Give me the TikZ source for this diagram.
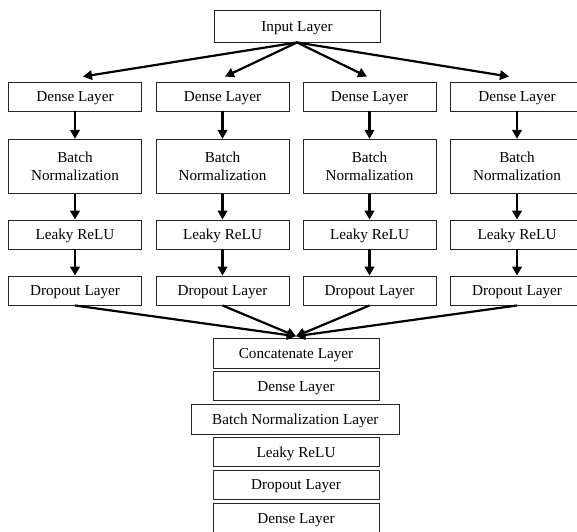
\documentclass[tikz,border=0pt]{standalone}
\usepackage{fontspec}
\setmainfont{Liberation Serif}
\usetikzlibrary{arrows.meta}
\begin{document}
\begin{tikzpicture}[x=1pt,y=-1pt,
  layer/.style={draw=black!85, line width=0.9pt, inner sep=0pt, align=center,
    minimum width=133pt, minimum height=29pt,
    text height=10pt, text depth=0pt,
    font=\fontsize{15.2}{18.3}\selectfont},
  tall/.style={minimum height=54pt, text height=, text depth=},
  arr/.style={line width=2.2pt, -{Triangle[length=9pt,width=9.5pt]}}
]
\useasboundingbox (0,0) rectangle (577,531);
\clip (0,0) rectangle (577,531);

\node[layer, minimum width=166pt, minimum height=32pt] (in) at (297,26) {Input Layer};

\foreach \i/\cx in {1/75,2/222.5,3/369.5,4/517}{
  \node[layer] (d\i) at (\cx,96.5) {Dense Layer};
  \node[layer,tall] (b\i) at (\cx,166.3) {Batch\\Normalization};
  \node[layer] (l\i) at (\cx,234.5) {Leaky ReLU};
  \node[layer] (o\i) at (\cx,290.5) {Dropout Layer};
  \draw[arr] (d\i.south) -- (b\i.north);
  \draw[arr] (b\i.south) -- (l\i.north);
  \draw[arr] (l\i.south) -- (o\i.north);
}

\node[layer, minimum width=166pt, minimum height=29.3pt] (cc) at (296,353.3) {Concatenate Layer};
\node[layer, minimum width=166pt, minimum height=29.3pt] (fd) at (296,386) {Dense Layer};
\node[layer, minimum width=208pt, minimum height=29.3pt] (fb) at (295.3,419.3) {Batch Normalization Layer};
\node[layer, minimum width=166pt, minimum height=29.3pt] (fl) at (296,452) {Leaky ReLU};
\node[layer, minimum width=166pt, minimum height=29.3pt] (fo) at (296,484.7) {Dropout Layer};
\node[layer, minimum width=166pt, minimum height=29.3pt] (fe) at (296,518) {Dense Layer};

\draw[arr] (in.south) -- ([xshift=8pt,yshift=5pt]d1.north);
\draw[arr] (in.south) -- ([xshift=2.5pt,yshift=5pt]d2.north);
\draw[arr] (in.south) -- ([xshift=-2.5pt,yshift=5pt]d3.north);
\draw[arr] (in.south) -- ([xshift=-8pt,yshift=5pt]d4.north);

\foreach \i in {1,2,3,4}{
  \draw[arr] (o\i.south) -- ([yshift=2pt]cc.north);
}
\end{tikzpicture}
\end{document}
